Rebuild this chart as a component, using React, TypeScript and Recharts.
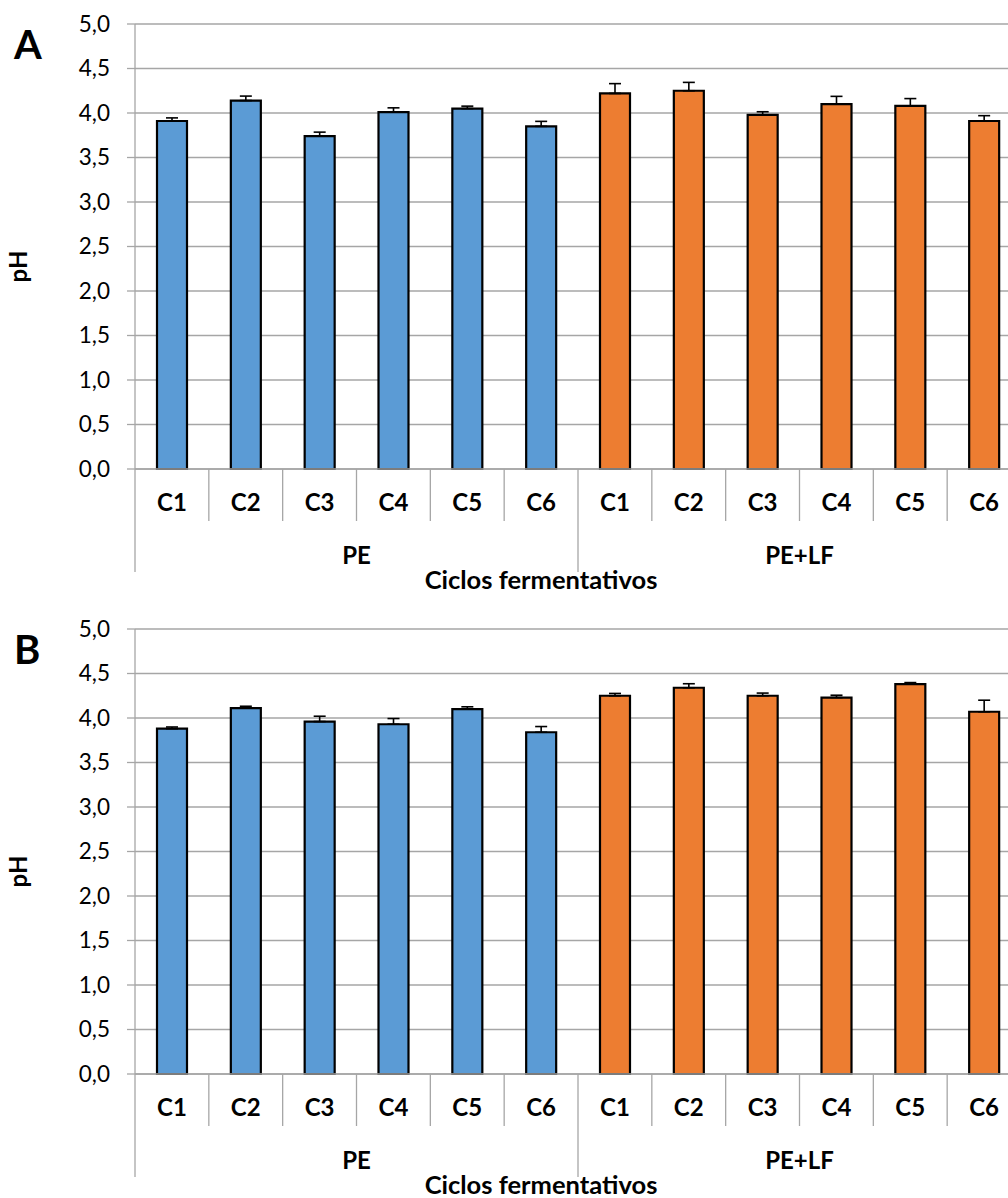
import { Bar, BarChart, CartesianGrid, Cell, ErrorBar, XAxis, YAxis } from "recharts";

const groups = ["PE", "PE+LF"];
const cycles = ["C1", "C2", "C3", "C4", "C5", "C6"];

// panel A
const phA = [3.91, 4.14, 3.74, 4.01, 4.05, 3.85, 4.22, 4.25, 3.98, 4.1, 4.08, 3.91];
const errA = [0.035, 0.05, 0.045, 0.048, 0.027, 0.056, 0.11, 0.094, 0.034, 0.087, 0.082, 0.06];

// panel B
const phB = [3.88, 4.11, 3.96, 3.93, 4.1, 3.84, 4.25, 4.34, 4.25, 4.23, 4.38, 4.07];
const errB = [0.019, 0.022, 0.06, 0.064, 0.026, 0.064, 0.026, 0.045, 0.03, 0.026, 0.018, 0.13];

const yTicks = [0, 0.5, 1, 1.5, 2, 2.5, 3, 3.5, 4, 4.5, 5];

const groupColors: Record<string, string> = { PE: "#5B9BD5", "PE+LF": "#ED7D31" };

const FONT = "Lato, 'Open Sans', sans-serif";
const GRID = "#a6a6a6";
const CHART_W = 1030;
const CHART_H = 605;
const MARGIN = { top: 24, right: 9, bottom: 0, left: 0 };
const Y_W = 135;
const N = groups.length * cycles.length;
const BAND = (CHART_W - MARGIN.left - MARGIN.right - Y_W) / N;

function buildRows(ph: number[], err: number[]) {
  return groups.flatMap((g, gi) =>
    cycles.map((c, ci) => {
      const i = gi * cycles.length + ci;
      return { key: `${g}-${c}`, group: g, cycle: c, ph: ph[i], err: [0, err[i]] };
    })
  );
}

const fmt = (v: number) => v.toFixed(1).replace(".", ",");

function makeTick(rows: ReturnType<typeof buildRows>) {
  return (props: any) => {
    const { x, y, index } = props;
    const row = rows[index];
    if (!row) return null;
    const first = index % cycles.length === 0;
    const last = index === rows.length - 1;
    return (
      <g>
        <line x1={x - BAND / 2} x2={x - BAND / 2} y1={y} y2={y + (first ? 103 : 52)} stroke={GRID} strokeWidth={1.3} />
        {last && <line x1={x + BAND / 2} x2={x + BAND / 2} y1={y} y2={y + 103} stroke={GRID} strokeWidth={1.3} />}
        <text x={x} y={y + 42} textAnchor="middle" fontFamily={FONT} fontWeight={700} fontSize={24} fill="#000">
          {row.cycle}
        </text>
        {first && (
          <text
            x={x + ((cycles.length - 1) / 2) * BAND}
            y={y + 95}
            textAnchor="middle"
            fontFamily={FONT}
            fontWeight={700}
            fontSize={24}
            fill="#000"
          >
            {row.group}
          </text>
        )}
      </g>
    );
  };
}

function Panel({ letter, ph, err }: { letter: string; ph: number[]; err: number[] }) {
  const rows = buildRows(ph, err);
  return (
    <div style={{ position: "relative", width: 1008, height: CHART_H, overflow: "hidden" }}>
      <BarChart width={CHART_W} height={CHART_H} data={rows} margin={MARGIN} barSize={30}>
        <CartesianGrid vertical={false} stroke={GRID} strokeWidth={1.3} />
        <XAxis
          dataKey="key"
          height={CHART_H - MARGIN.top - 445}
          tickLine={false}
          tickSize={0}
          tickMargin={0}
          interval={0}
          axisLine={{ stroke: GRID, strokeWidth: 1.3 }}
          tick={makeTick(rows)}
          label={{
            content: (p: any) => (
              <text
                x={541}
                y={p.viewBox.y + 120}
                textAnchor="middle"
                fontFamily={FONT}
                fontWeight={700}
                fontSize={25.5}
                fill="#000"
              >
                Ciclos fermentativos
              </text>
            ),
          }}
        />
        <YAxis
          width={Y_W}
          domain={[0, 5]}
          ticks={yTicks}
          interval={0}
          tickFormatter={fmt}
          tickSize={8}
          tickMargin={17}
          tickLine={{ stroke: GRID, strokeWidth: 1.3 }}
          axisLine={{ stroke: GRID, strokeWidth: 1.3 }}
          tick={{ fill: "#000", fontSize: 22.5, fontFamily: FONT }}
          label={{
            content: (p: any) => {
              const cy = p.viewBox.y + p.viewBox.height / 2 + 20;
              return (
                <text
                  x={27}
                  y={cy}
                  transform={`rotate(-90, 27, ${cy})`}
                  textAnchor="middle"
                  fontFamily={FONT}
                  fontWeight={700}
                  fontSize={24}
                  fill="#000"
                >
                  pH
                </text>
              );
            },
          }}
        />
        <Bar dataKey="ph" stroke="#000" strokeWidth={2.2} isAnimationActive={false}>
          {rows.map((r) => (
            <Cell key={r.key} fill={groupColors[r.group]} />
          ))}
          <ErrorBar dataKey="err" direction="y" width={6} stroke="#000" strokeWidth={1.6} />
        </Bar>
      </BarChart>
      <svg width={60} height={80} style={{ position: "absolute", left: 0, top: 0 }}>
        <text x={14} y={59} fontFamily={FONT} fontWeight={700} fontSize={40} fill="#000">
          {letter}
        </text>
      </svg>
    </div>
  );
}

export default function App() {
  return (
    <div style={{ position: "absolute", left: 0, top: 0, width: 1008, height: 1198, background: "#fff", fontFamily: FONT }}>
      <Panel letter="A" ph={phA} err={errA} />
      <Panel letter="B" ph={phB} err={errB} />
    </div>
  );
}
